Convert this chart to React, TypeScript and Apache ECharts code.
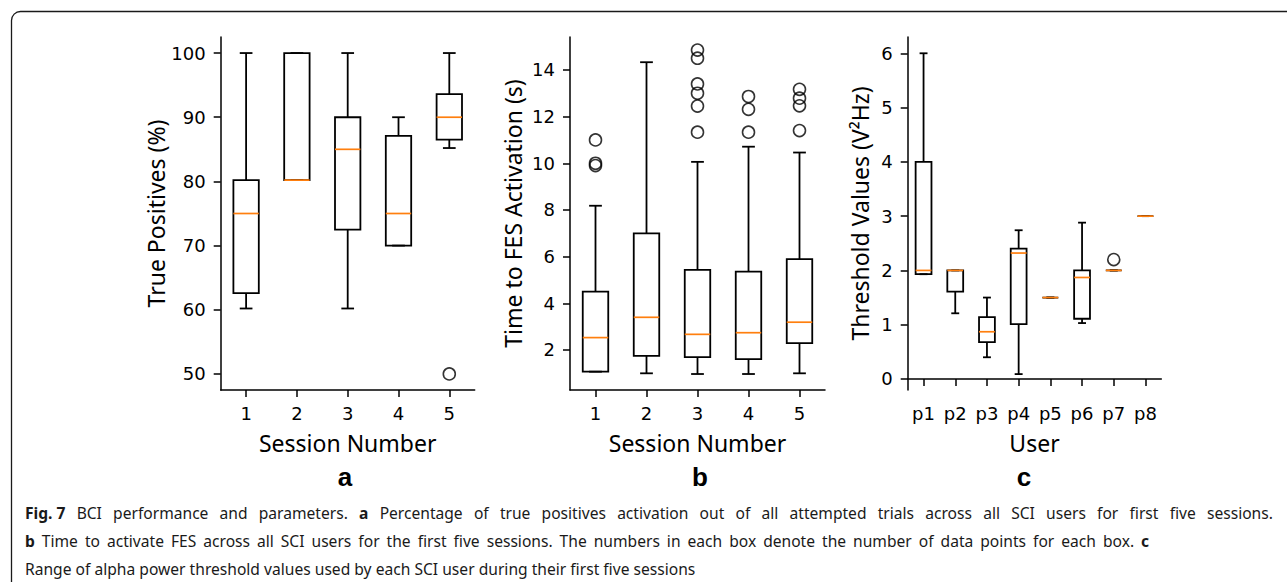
import React, { useEffect, useRef } from "react";
import * as echarts from "echarts";

// ---------- data ----------
const sessions = ["1", "2", "3", "4", "5"];
const users = ["p1", "p2", "p3", "p4", "p5", "p6", "p7", "p8"];

// [low whisker, Q1, median, Q3, high whisker]
const truePositivesBoxes = [
  [60.2, 62.6, 75, 80.2, 100],
  [80.2, 80.2, 80.2, 100, 100],
  [60.2, 72.5, 85, 90, 100],
  [70, 70, 75, 87.1, 90],
  [85.2, 86.5, 90, 93.6, 100],
];
const truePositivesOutliers = [[4, 50]];

const activationBoxes = [
  [1.07, 1.07, 2.53, 4.5, 8.18],
  [1.0, 1.75, 3.4, 7.0, 14.33],
  [0.97, 1.69, 2.67, 5.43, 10.06],
  [0.97, 1.61, 2.74, 5.36, 10.71],
  [1.0, 2.29, 3.19, 5.89, 10.46],
];
const activationOutliers = [
  [0, 11.0], [0, 10.0], [0, 9.9],
  [2, 14.85], [2, 14.5], [2, 13.4], [2, 13.0], [2, 12.45], [2, 11.33],
  [3, 12.86], [3, 12.31], [3, 11.33],
  [4, 13.17], [4, 12.79], [4, 12.46], [4, 11.4],
];

const thresholdBoxes = [
  [1.93, 1.93, 2.0, 4.0, 6.0],
  [1.21, 1.61, 2.0, 2.0, 2.0],
  [0.4, 0.68, 0.87, 1.14, 1.5],
  [0.09, 1.01, 2.32, 2.4, 2.74],
  [1.5, 1.5, 1.5, 1.5, 1.5],
  [1.03, 1.11, 1.87, 2.0, 2.88],
  [2.0, 2.0, 2.0, 2.0, 2.0],
  [3.0, 3.0, 3.0, 3.0, 3.0],
];
const thresholdOutliers = [[6, 2.2]];

const yTicksA = [50, 60, 70, 80, 90, 100];
const yTicksB = [2, 4, 6, 8, 10, 12, 14];
const yTicksC = [0, 1, 2, 3, 4, 5, 6];

// caption lines: words; words wrapped in * are bold
const captionLine1 = ["*Fig. 7*", "BCI", "performance", "and", "parameters.", "*a*", "Percentage", "of", "true", "positives", "activation", "out", "of", "all", "attempted", "trials", "across", "all", "SCI", "users", "for", "first", "five", "sessions."];
const captionLine2 = ["*b*", "Time", "to", "activate", "FES", "across", "all", "SCI", "users", "for", "the", "first", "five", "sessions.", "The", "numbers", "in", "each", "box", "denote", "the", "number", "of", "data", "points", "for", "each", "box.", "*c*"];
const captionLine3 = ["Range", "of", "alpha", "power", "threshold", "values", "used", "by", "each", "SCI", "user", "during", "their", "first", "five", "sessions"];

// ---------- helpers ----------
const TICK_FONT = "DejaVu Sans";
const LABEL_FONT = "Noto Sans";
const CAP_SIZE = 15.6;

const buildCaption = (words: string[]) =>
  words
    .map((w) => (w.startsWith("*") ? `{b|${w.slice(1, -1)}}` : `{r|${w}}`))
    .join("{s| }");

const renderBox = (_params: any, api: any) => {
  const x = api.value(0);
  const lo = api.coord([x, api.value(1)]);
  const q1 = api.coord([x, api.value(2)]);
  const med = api.coord([x, api.value(3)]);
  const q3 = api.coord([x, api.value(4)]);
  const hi = api.coord([x, api.value(5)]);
  const band = api.size([1, 0])[0];
  const hw = band * 0.25;
  const cw = band * 0.125;
  const cx = lo[0];
  const black = { stroke: "#000", lineWidth: 1.8, fill: "none" };
  return {
    type: "group",
    children: [
      { type: "line", shape: { x1: cx, y1: q1[1], x2: cx, y2: lo[1] }, style: black },
      { type: "line", shape: { x1: cx, y1: q3[1], x2: cx, y2: hi[1] }, style: black },
      { type: "line", shape: { x1: cx - cw, y1: lo[1], x2: cx + cw, y2: lo[1] }, style: black },
      { type: "line", shape: { x1: cx - cw, y1: hi[1], x2: cx + cw, y2: hi[1] }, style: black },
      { type: "rect", shape: { x: cx - hw, y: q3[1], width: 2 * hw, height: q1[1] - q3[1] }, style: black },
      { type: "line", shape: { x1: cx - hw, y1: med[1], x2: cx + hw, y2: med[1] }, style: { stroke: "#ff7f0e", lineWidth: 1.7 } },
    ],
  };
};

const axisLineStyle = { color: "#000", width: 1.5 };

const makeX = (grid: number, cats: string[], name: string) => ({
  type: "category",
  gridIndex: grid,
  data: cats,
  boundaryGap: true,
  name,
  nameLocation: "middle",
  nameGap: 41,
  nameTextStyle: { fontFamily: LABEL_FONT, fontSize: 23, color: "#000" },
  axisLine: { show: true, lineStyle: axisLineStyle },
  axisTick: { show: true, alignWithLabel: true, length: 7, lineStyle: axisLineStyle },
  axisLabel: { fontFamily: TICK_FONT, fontSize: 18, color: "#000", margin: 14 },
  splitLine: { show: false },
});

const makeY = (grid: number, min: number, max: number, ticks: number[], name: string, gap: number) => ({
  type: "value",
  gridIndex: grid,
  min,
  max,
  name,
  nameLocation: "middle",
  nameRotate: 90,
  nameGap: gap,
  nameTextStyle: { fontFamily: LABEL_FONT, fontSize: 23, color: "#000" },
  axisLine: { show: true, lineStyle: axisLineStyle },
  axisTick: { show: true, length: 7, lineStyle: axisLineStyle, customValues: ticks },
  axisLabel: { fontFamily: TICK_FONT, fontSize: 18, color: "#000", margin: 15, customValues: ticks },
  splitLine: { show: false },
});

const boxSeries = (idx: number, boxes: number[][]) => ({
  type: "custom",
  xAxisIndex: idx,
  yAxisIndex: idx,
  renderItem: renderBox,
  encode: { x: 0, y: [1, 2, 3, 4, 5] },
  data: boxes.map((b, i) => [i, ...b]),
  z: 3,
});

const outlierSeries = (idx: number, pts: number[][]) => ({
  type: "scatter",
  xAxisIndex: idx,
  yAxisIndex: idx,
  data: pts,
  symbol: "circle",
  symbolSize: 12,
  itemStyle: { color: "rgba(0,0,0,0)", borderColor: "#000", borderWidth: 1.6 },
  z: 4,
});

export default function App() {
  const ref = useRef<HTMLDivElement>(null);

  useEffect(() => {
    if (!ref.current) return;
    const chart = echarts.init(ref.current, undefined, { renderer: "svg" });
    const capLines = [captionLine1, captionLine2, captionLine3];
    const gapWidths = [11.2, 7, 4.1];
    const option: any = {
      animation: false,
      backgroundColor: "#fff",
      grid: [
        { left: 220.7, top: 37, width: 254, height: 353, outerBoundsMode: "none", containLabel: false },
        { left: 570, top: 37, width: 255, height: 353, outerBoundsMode: "none", containLabel: false },
        { left: 907.7, top: 37, width: 253.6, height: 353, outerBoundsMode: "none", containLabel: false },
      ],
      xAxis: [
        makeX(0, sessions, "Session Number"),
        makeX(1, sessions, "Session Number"),
        makeX(2, users, "User"),
      ],
      yAxis: [
        makeY(0, 47.5, 102.5, yTicksA, "True Positives (%)", 50),
        makeY(1, 0.285, 15.41, yTicksB, "Time to FES Activation (s)", 46),
        makeY(2, -0.203, 6.3, yTicksC, "Threshold Values (V²Hz)", 36),
      ],
      series: [
        boxSeries(0, truePositivesBoxes),
        outlierSeries(0, truePositivesOutliers),
        boxSeries(1, activationBoxes),
        outlierSeries(1, activationOutliers),
        boxSeries(2, thresholdBoxes),
        outlierSeries(2, thresholdOutliers),
      ],
      graphic: [
        {
          type: "rect",
          shape: { x: 11.5, y: 11.5, width: 1300, height: 600, r: 9 },
          style: { fill: "none", stroke: "#1a1a1a", lineWidth: 1.3 },
          silent: true,
        },
        ...["a", "b", "c"].map((t, i) => ({
          type: "text",
          x: [345, 700, 1024][i],
          y: 477,
          style: {
            text: t,
            fontFamily: "Liberation Sans",
            fontWeight: "bold",
            fontSize: 26,
            fill: "#000",
            align: "center",
            verticalAlign: "middle",
          },
        })),
        ...capLines.map((words, i) => ({
          type: "text",
          x: 25,
          y: [513, 541, 569][i],
          style: {
            text: buildCaption(words),
            fontFamily: LABEL_FONT,
            fontSize: CAP_SIZE,
            fill: "#1a1a1a",
            align: "left",
            verticalAlign: "middle",
            rich: {
              b: { fontFamily: LABEL_FONT, fontSize: CAP_SIZE, fontWeight: "bold", fill: "#1a1a1a" },
              r: { fontFamily: LABEL_FONT, fontSize: CAP_SIZE, fill: "#1a1a1a" },
              s: { fontFamily: LABEL_FONT, fontSize: CAP_SIZE, fill: "#1a1a1a", width: gapWidths[i] },
            },
          },
        })),
      ],
    };
    chart.setOption(option);
    return () => chart.dispose();
  }, []);

  return (
    <div
      ref={ref}
      style={{ position: "fixed", left: 0, top: 0, width: 1287, height: 582, background: "#fff" }}
    />
  );
}
